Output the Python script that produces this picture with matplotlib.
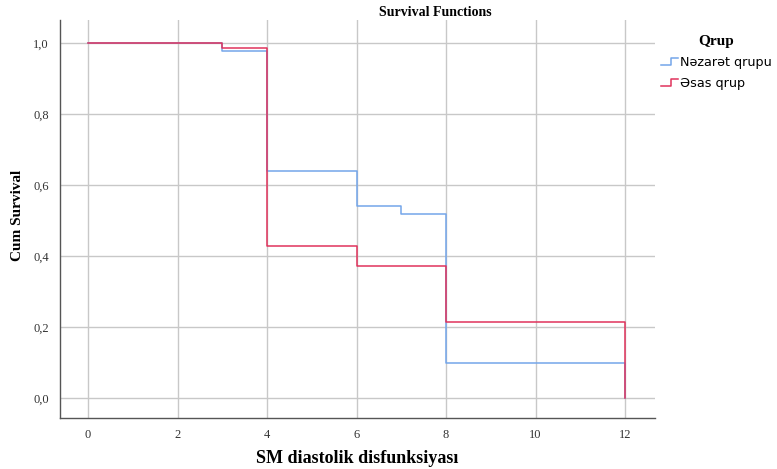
#!/usr/bin/env python3
import matplotlib
matplotlib.use('Agg')
import matplotlib.pyplot as plt
from matplotlib.legend_handler import HandlerLine2D
from matplotlib.lines import Line2D


# survival step data (time, cumulative survival)
TIME_CONTROL = [0, 3, 4, 6, 7, 8, 12, 12]
SURV_CONTROL = [1.0, 0.977, 0.639, 0.541, 0.52, 0.1, 0.1, 0.0]

TIME_MAIN = [0, 3, 4, 6, 8, 12, 12]
SURV_MAIN = [1.0, 0.986, 0.428, 0.372, 0.213, 0.213, 0.0]

LABELS = ['Nəzarət qrupu', 'Əsas qrup']
COLORS = ['#74a6ea', '#e0335c']

X_TICKS = [0, 2, 4, 6, 8, 10, 12]
Y_TICKS = [0.0, 0.2, 0.4, 0.6, 0.8, 1.0]

SERIF = ['Liberation Serif', 'DejaVu Serif']


class StepHandler(HandlerLine2D):
    def create_artists(self, legend, orig_handle, xdescent, ydescent,
                       width, height, fontsize, trans):
        x0 = -xdescent
        y0 = -ydescent + height * 0.1
        y1 = -ydescent + height * 0.9
        xs = [x0, x0 + width * 0.55, x0 + width * 0.55, x0 + width]
        ys = [y0, y0, y1, y1]
        ln = Line2D(xs, ys, color=orig_handle.get_color(), lw=1.1)
        ln.set_transform(trans)
        return [ln]


def run():
    fig = plt.figure(figsize=(7.77, 4.69), dpi=100)
    ax = fig.add_axes([0.077, 0.109, 0.766, 0.848])

    handles = []
    for t, s, c, lab in [(TIME_CONTROL, SURV_CONTROL, COLORS[0], LABELS[0]),
                         (TIME_MAIN, SURV_MAIN, COLORS[1], LABELS[1])]:
        h, = ax.step(t, s, where='post', color=c, lw=1.1, label=lab)
        handles.append(h)

    ax.set_xlim(-0.63, 12.67)
    ax.set_ylim(-0.056, 1.065)
    ax.set_xticks(X_TICKS)
    ax.set_yticks(Y_TICKS)
    ax.set_xticklabels([str(v) for v in X_TICKS], fontsize=9, family=SERIF)
    ax.set_yticklabels([('%.1f' % v).replace('.', ',') for v in Y_TICKS],
                       fontsize=9, family=SERIF)
    ax.tick_params(length=0, pad=8, colors='#333333')
    ax.grid(True, color='#c8c8c8', lw=1.0)
    ax.set_axisbelow(True)
    for side in ['top', 'right']:
        ax.spines[side].set_visible(False)
    for side in ['left', 'bottom']:
        ax.spines[side].set_color('#555555')
        ax.spines[side].set_linewidth(1.0)

    fig.text(0.46, 0.023, 'SM diastolik disfunksiyası', ha='center',
             va='center', fontsize=13, fontweight='bold', family=SERIF)
    fig.text(0.022, 0.54, 'Cum Survival', ha='center', va='center',
             rotation=90, fontsize=11, fontweight='bold', family=SERIF)
    fig.text(0.56, 0.974, 'Survival Functions', ha='center', va='center',
             fontsize=10, fontweight='bold', family=SERIF)

    fig.legend(handles=handles, labels=LABELS, loc='upper left',
               bbox_to_anchor=(0.843, 0.938), frameon=False, borderpad=0,
               handler_map={Line2D: StepHandler()},
               handlelength=1.3, handletextpad=0.15, labelspacing=0.6,
               prop={'family': ['DejaVu Sans'], 'size': 9.2},
               title='Qrup',
               title_fontproperties={'family': SERIF, 'weight': 'bold',
                                     'size': 11})
    fig.savefig('out.png', dpi=100)


if __name__ == '__main__':
    run()
